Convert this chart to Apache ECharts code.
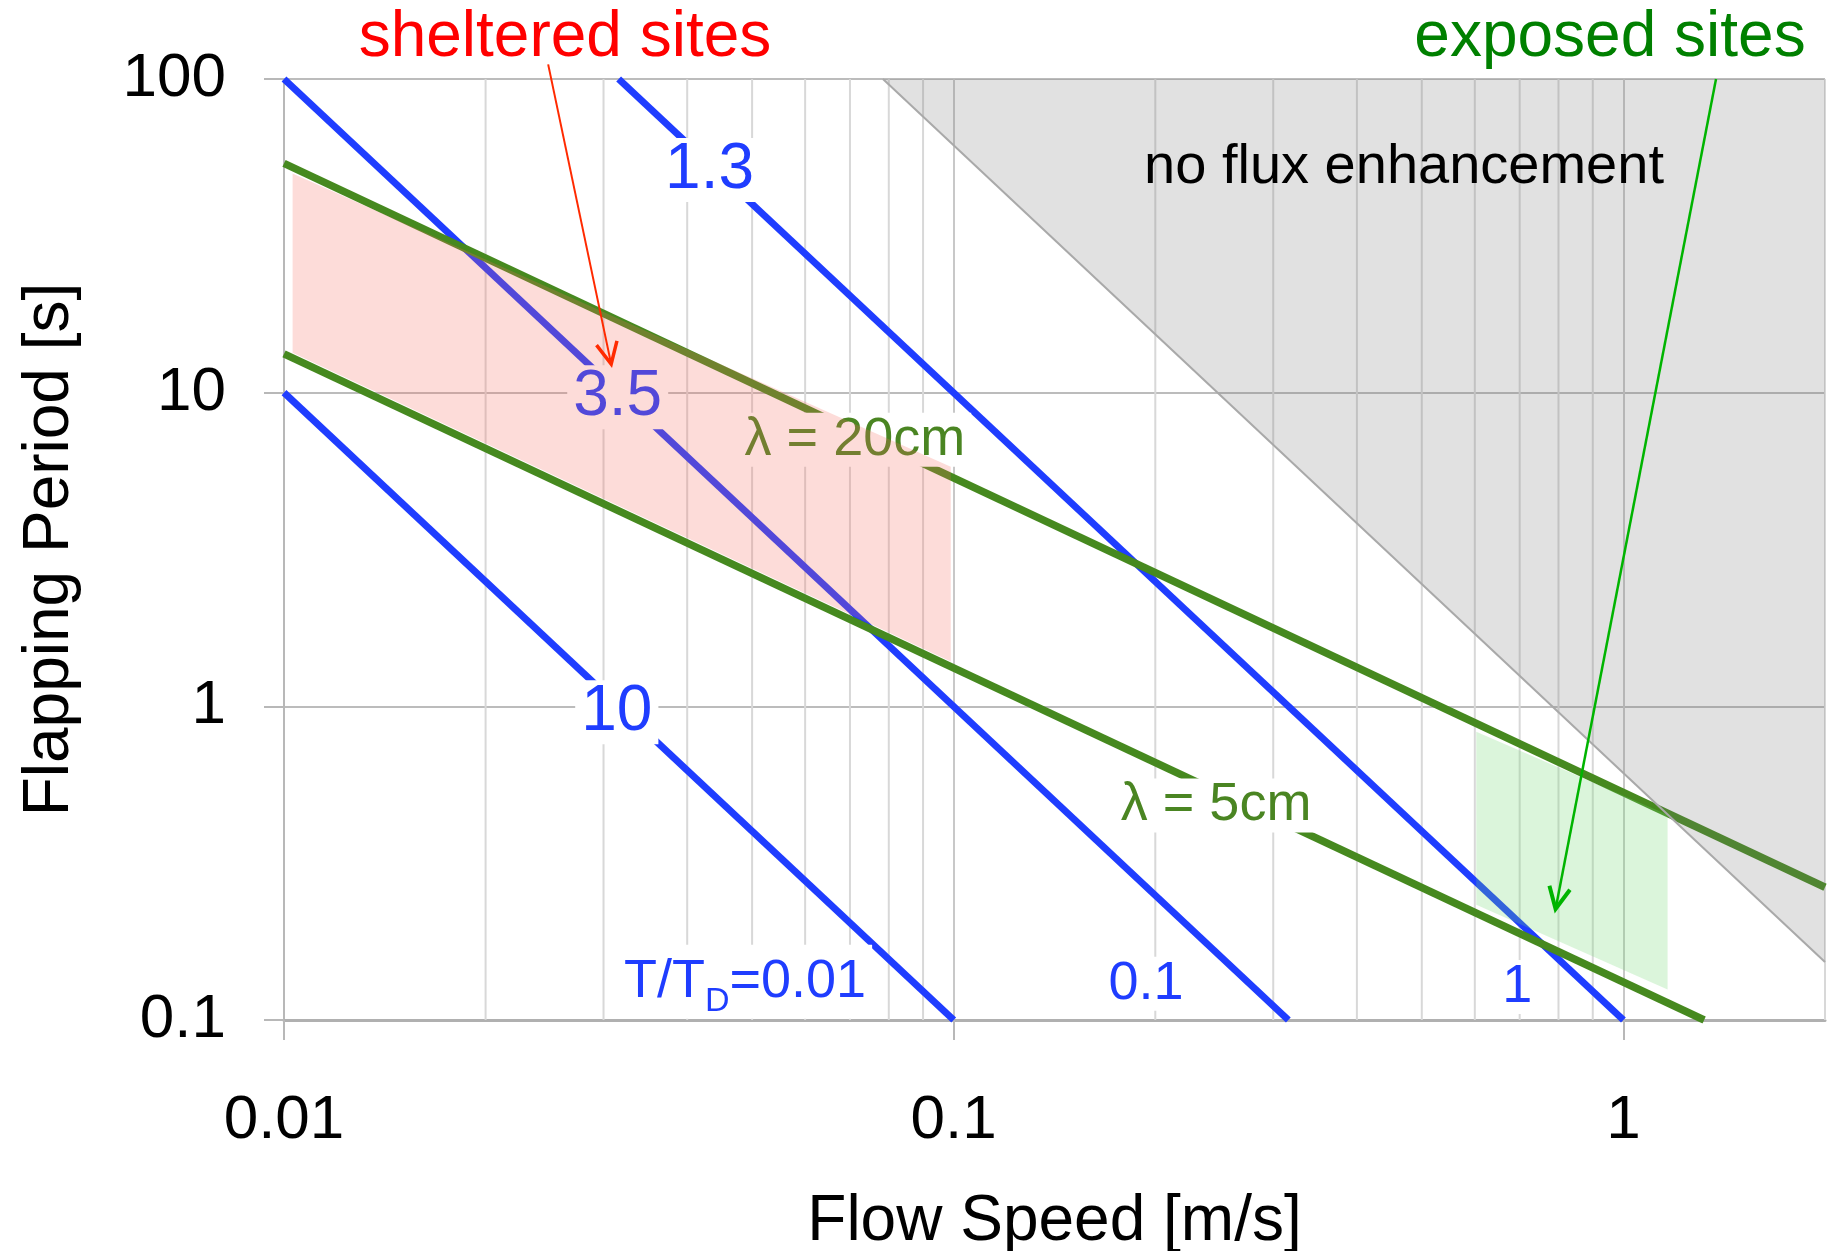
<!DOCTYPE html>
<html><head><meta charset="utf-8">
<script src="https://cdn.jsdelivr.net/npm/echarts/dist/echarts.min.js"></script>
<style>html,body{margin:0;padding:0;background:#fff}#c{width:1839px;height:1251px}</style>
</head><body><div id="c"></div>
<script>
const FONT = '"Liberation Sans", Arial, Helvetica, sans-serif';
const BLUE = '#1f3dff';
const GREEN = '#46891f';

// axis ranges / ticks
const xRange = [0.01, 2];
const yRange = [0.1, 100];
const xTicks = [0.01, 0.1, 1];
const yTicks = [0.1, 1, 10, 100];
const xMinorGrid = [0.02,0.03,0.04,0.05,0.06,0.07,0.08,0.09,0.2,0.3,0.4,0.5,0.6,0.7,0.8,0.9,2];

// T/T_D lines (blue)
const blueLine001 = [[0.01,10],[0.1,0.1]];
const blueLine01 = [[0.01,100],[0.316,0.1]];
const blueLine1 = [[0.0316,100],[1,0.1]];
// wavelength lines (green)
const lambda20 = [[0.01,53.8],[2,0.265]];
const lambda5 = [[0.01,13.3],[1.32,0.1]];
// shaded regions
const shelteredRegion = [[0.0103,50],[0.099,5.8],[0.099,1.39],[0.0103,13.4]];
const exposedRegion = [[0.603,0.83],[1.164,0.451],[1.164,0.125],[0.603,0.233]];
const noFluxRegion = [[0.0784,100],[2,100],[2,0.153]];
// in-plot labels: [text, x, y]
const blueTopLabels = [['1.3',0.0432,53.6],['3.5',0.0315,10.1],['10',0.0314,1.0]];
const blueBottomLabels = [['T/T{s|D}=0.01',0.0488,0.1325],['0.1',0.1937,0.1304],['1',0.694,0.1273]];
const lambdaLabels = [['λ = 20cm',0.0712,7.4],['λ = 5cm',0.2465,0.505]];
// arrows: [from, to]
const shelteredArrow = [[0.0248,111.3],[0.0308,12.33]];
const exposedArrow = [[1.375,100],[0.792,0.226]];

const chart = echarts.init(document.getElementById('c'));

function lineSeries(data, color, width) {
  return {type:'line', data:data, symbol:'none', silent:true, z:2, clip:true,
          lineStyle:{color:color, width:width}, emphasis:{disabled:true}};
}
function polySeries(pts, fill, z, extraLine) {
  return {type:'custom', z:z, silent:true, data:[pts[0]],
    renderItem:(params, api) => {
      const p = pts.map(v => api.coord(v));
      const children = [{type:'polygon', shape:{points:p}, style:{fill:fill}}];
      if (extraLine) {
        const a = api.coord(extraLine[0]), b = api.coord(extraLine[1]);
        children.push({type:'line', shape:{x1:a[0],y1:a[1],x2:b[0],y2:b[1]}, style:{stroke:'#a9a9a9', lineWidth:2}});
      }
      return {type:'group', children:children};
    }};
}
function arrowSeries(pts, color, width) {
  return {type:'custom', z:6, silent:true, clip:false, data:[pts[0]],
    renderItem:(params, api) => {
      const a = api.coord(pts[0]), b = api.coord(pts[1]);
      const ang = Math.atan2(b[1]-a[1], b[0]-a[0]);
      const L = 24, w = 0.45;
      const w1 = [b[0]-L*Math.cos(ang-w), b[1]-L*Math.sin(ang-w)];
      const w2 = [b[0]-L*Math.cos(ang+w), b[1]-L*Math.sin(ang+w)];
      return {type:'group', children:[
        {type:'line', shape:{x1:a[0],y1:a[1],x2:b[0],y2:b[1]}, style:{stroke:color, lineWidth:width}},
        {type:'polyline', shape:{points:[w1,b,w2]}, style:{stroke:color, lineWidth:width+1.5, fill:null}}
      ]};
    }};
}
function labelSeries(items, color, size, dy, rich) {
  return {type:'scatter', z:3, silent:true, symbolSize:1,
    itemStyle:{color:'rgba(0,0,0,0)', opacity:1},
    data: items.map(d => ({name:d[0], value:[d[1], d[2]]})),
    label:{show:true, position:'inside', offset:[0,dy], formatter:'{b}', color:color, fontSize:size, opacity:1,
           fontFamily:FONT, backgroundColor:'#ffffff', padding:[0,6], rich:rich || {}},
    emphasis:{disabled:true}};
}

const option = {
  animation:false,
  backgroundColor:'#ffffff',
  grid:{left:284, right:14, top:79, bottom:231, containLabel:false, outerBoundsMode:'none'},
  xAxis:{type:'log', logBase:10, min:xRange[0], max:xRange[1],
    axisLine:{show:true, onZero:false, lineStyle:{color:'#b0b0b0', width:3}},
    axisTick:{show:true, length:20, customValues:xTicks, lineStyle:{color:'#b8b8b8', width:2}},
    axisLabel:{fontSize:62, color:'#000', margin:70, fontFamily:FONT, customValues:xTicks},
    splitLine:{show:true, lineStyle:{color:'#c8c8c8', width:2}},
    name:'Flow Speed [m/s]', nameLocation:'middle', nameGap:170,
    nameTextStyle:{fontSize:64, color:'#000', fontFamily:FONT}},
  yAxis:{type:'log', logBase:10, min:yRange[0], max:yRange[1],
    axisLine:{show:true, onZero:false, lineStyle:{color:'#b8b8b8', width:2}},
    axisTick:{show:true, length:20, customValues:yTicks, lineStyle:{color:'#b8b8b8', width:2}},
    axisLabel:{fontSize:62, color:'#000', margin:58, fontFamily:FONT, customValues:yTicks},
    splitLine:{show:true, lineStyle:{color:'#bcbcbc', width:2}},
    name:'Flapping Period [s]', nameLocation:'middle', nameGap:202,
    nameTextStyle:{fontSize:64, color:'#000', fontFamily:FONT}},
  series:[
    {type:'custom', z:1, silent:true, data:xMinorGrid.map(v => [v, 1]),
      renderItem:(params, api) => {
        const v = api.value(0);
        const a = api.coord([v, yRange[1]]), b = api.coord([v, yRange[0]]);
        return {type:'line', shape:{x1:a[0],y1:a[1],x2:b[0],y2:b[1]}, style:{stroke:'#d8d8d8', lineWidth:2}};
      }},
    lineSeries(blueLine001, BLUE, 7),
    lineSeries(blueLine01, BLUE, 7),
    lineSeries(blueLine1, BLUE, 7),
    lineSeries(lambda20, GREEN, 7.5),
    lineSeries(lambda5, GREEN, 7.5),
    labelSeries(blueTopLabels, BLUE, 64, 6),
    labelSeries(blueBottomLabels, BLUE, 54, 0, {s:{fontSize:34, color:BLUE, fontFamily:FONT, padding:[40,0,0,0], verticalAlign:'bottom'}}),
    labelSeries(lambdaLabels, '#4a8522', 54, 6),
    polySeries(shelteredRegion, 'rgba(245,110,95,0.24)', 4),
    polySeries(exposedRegion, 'rgba(110,215,110,0.25)', 4),
    polySeries(noFluxRegion, 'rgba(120,120,120,0.22)', 4, [noFluxRegion[0], noFluxRegion[2]]),
    arrowSeries(shelteredArrow, '#ff2a00', 2),
    arrowSeries(exposedArrow, '#00b400', 2.5)
  ],
  graphic:[
    {type:'text', x:565, y:38, z:10, style:{text:'sheltered sites', fill:'#ff0000', fontSize:64, fontFamily:FONT, align:'center', verticalAlign:'middle'}},
    {type:'text', x:1610, y:38, z:10, style:{text:'exposed sites', fill:'#008000', fontSize:64, fontFamily:FONT, align:'center', verticalAlign:'middle'}},
    {type:'text', x:1404, y:168, z:10, style:{text:'no flux enhancement', fill:'#000000', fontSize:56, fontFamily:FONT, align:'center', verticalAlign:'middle'}}
  ]
};
chart.setOption(option);
</script></body></html>
